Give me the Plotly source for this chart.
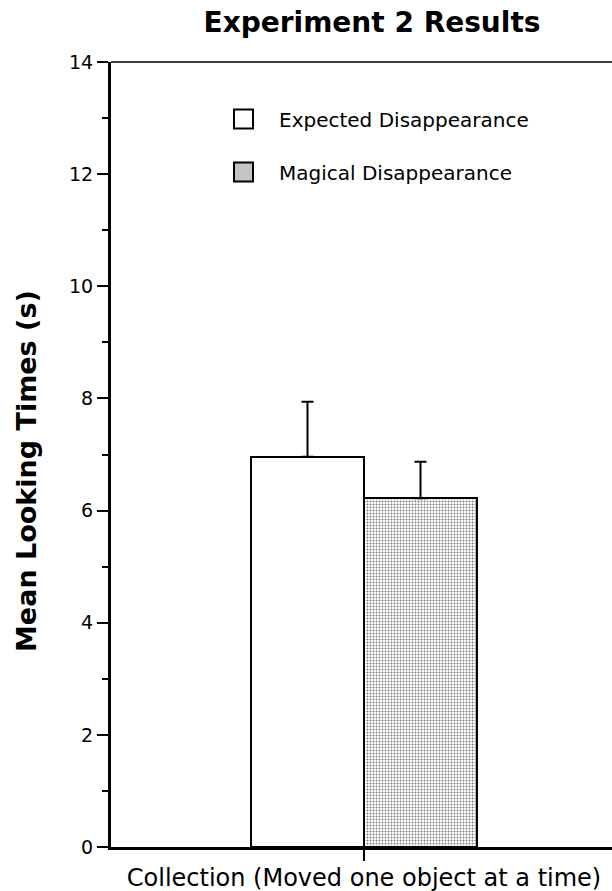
import plotly.graph_objects as go

# ---- data ----
categories = ["Collection (Moved one object at a time)"]
conditions = ["Expected Disappearance", "Magical Disappearance"]
means = [6.96, 6.22]
errors = [0.98, 0.65]
y_ticks = [0, 2, 4, 6, 8, 10, 12, 14]
title_text = "Experiment 2 Results"
y_title = "Mean Looking Times (s)"

W, H = 612, 891
L, R, T, B = 111, 0, 62, 44
PW, PH = W - L - R, H - T - B

def px_x(p):
    return (p - L) / PW

def px_y(p):
    return (H - B - p) / PH

FONT = "DejaVu Sans"

fig = go.Figure()

# white bar
fig.add_trace(go.Bar(
    x=[categories[0]], y=[means[0]], name=conditions[0],
    marker=dict(color="white", line=dict(color="black", width=2)),
    error_y=dict(type="data", array=[errors[0]], arrayminus=[0], symmetric=False,
                 color="black", thickness=2, width=6),
    offsetgroup="a",
))
# stippled bar
fig.add_trace(go.Bar(
    x=[categories[0]], y=[means[1]], name=conditions[1],
    marker=dict(color="white", line=dict(color="black", width=2),
                pattern=dict(shape=".", fgcolor="black", bgcolor="white",
                             size=3, solidity=0.35, fillmode="overlay")),
    error_y=dict(type="data", array=[errors[1]], arrayminus=[0], symmetric=False,
                 color="black", thickness=2, width=6),
    offsetgroup="b",
))

shapes = []
annotations = []

# top border line
shapes.append(dict(type="line", xref="paper", yref="paper", x0=0, x1=1, y0=1, y1=1,
                   line=dict(color="black", width=1.5)))

# legend (manual)
sq = [(234, 253, 119), (234, 253, 172)]
fills = ["white", "#c4c4c4"]
for (x0, x1, yc), f, name in zip(sq, fills, conditions):
    shapes.append(dict(type="rect", xref="paper", yref="paper",
                       x0=px_x(x0), x1=px_x(x1), y0=px_y(yc + 9.5), y1=px_y(yc - 9.5),
                       fillcolor=f, line=dict(color="black", width=2)))
    annotations.append(dict(text=name, xref="paper", yref="paper",
                            x=px_x(277), y=px_y(yc + 1), xanchor="left", yanchor="middle",
                            showarrow=False, font=dict(family=FONT, size=20, color="black")))

# y title
annotations.append(dict(text="<b>" + y_title + "</b>", xref="paper", yref="paper",
                        x=px_x(26), y=px_y(471), xanchor="center", yanchor="middle",
                        textangle=-90, showarrow=False,
                        font=dict(family=FONT, size=27, color="black")))

fig.update_layout(
    template="none",
    width=W, height=H,
    margin=dict(l=L, r=R, t=T, b=B, pad=0),
    paper_bgcolor="white", plot_bgcolor="white",
    showlegend=False,
    barmode="group", bargap=0, bargroupgap=0,
    title=dict(text="<b>" + title_text + "</b>", x=372 / W, xanchor="center",
               xref="container", yref="container", y=1 - 22 / H, yanchor="middle",
               font=dict(family=FONT, size=28, color="black")),
    shapes=shapes, annotations=annotations,
)

fig.update_xaxes(
    type="category", range=[-253 / 226, 248 / 226],
    showline=True, linecolor="black", linewidth=3,
    ticks="outside", ticklen=11, tickwidth=2, tickcolor="black",
    ticklabelstandoff=-4,
    showgrid=False, zeroline=False, automargin=False,
    tickfont=dict(family=FONT, size=24, color="black"),
)
fig.update_yaxes(
    range=[0, 14], tickvals=y_ticks,
    showline=True, linecolor="black", linewidth=3,
    ticks="outside", ticklen=11, tickwidth=2, tickcolor="black",
    minor=dict(dtick=1, ticks="outside", ticklen=6, tickwidth=2, tickcolor="black", showgrid=False),
    showgrid=False, zeroline=False, automargin=False,
    tickfont=dict(family=FONT, size=19, color="black"),
)

fig.write_html(
    "out.html",
    config={"displayModeBar": False},
    post_script="document.body.style.margin='0';document.body.style.overflow='hidden';",
)
